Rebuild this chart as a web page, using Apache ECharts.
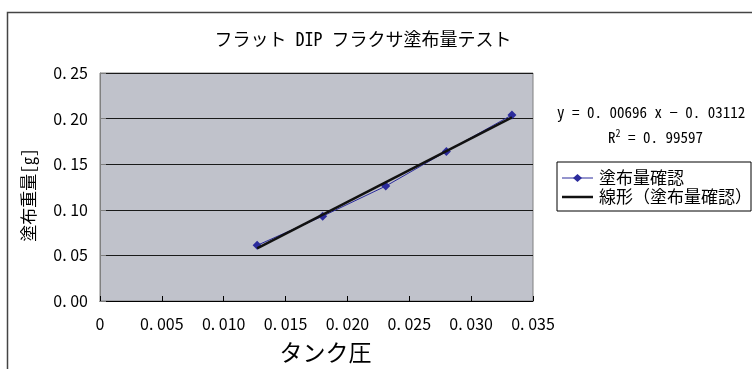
<!DOCTYPE html>
<html>
<head>
<meta charset="utf-8">
<script src="https://cdn.jsdelivr.net/npm/echarts@6/dist/echarts.min.js"></script>
<style>
  html, body { margin: 0; padding: 0; background: #fff; }
  #chart { width: 752px; height: 369px; }
</style>
</head>
<body>
<div id="chart"></div>
<script>
// Tank pressure vs. flux coating weight
const tankPressure = [0.0127, 0.0180, 0.0231, 0.0280, 0.0333];
const coatWeight   = [0.061, 0.093, 0.126, 0.164, 0.204];
const xTicks = [0, 0.005, 0.010, 0.015, 0.020, 0.025, 0.030, 0.035];
const yTicks = [0, 0.05, 0.10, 0.15, 0.20, 0.25];
const seriesName = '塗布量確認';
const trendName = '線形（塗布量確認）';
const equationText = 'y = 0. 00696 x − 0. 03112';
const rSquaredText = '0. 99597';

// Least-squares linear fit of the measured points
function linearFit(xs, ys) {
  const n = xs.length;
  const mx = xs.reduce((a, b) => a + b, 0) / n;
  const my = ys.reduce((a, b) => a + b, 0) / n;
  let sxy = 0, sxx = 0;
  for (let i = 0; i < n; i++) {
    sxy += (xs[i] - mx) * (ys[i] - my);
    sxx += (xs[i] - mx) * (xs[i] - mx);
  }
  const slope = sxy / sxx;
  return { slope, intercept: my - slope * mx };
}
const fit = linearFit(tankPressure, coatWeight);
const xMin = Math.min(...tankPressure), xMax = Math.max(...tankPressure);
const trendData = [[xMin, fit.slope * xMin + fit.intercept], [xMax, fit.slope * xMax + fit.intercept]];

const MONO = '"Noto Sans Mono CJK JP", "Noto Sans CJK JP", sans-serif';
const SANS = '"Noto Sans CJK JP", sans-serif';
const fmt = (v, d) => (v === 0 && d === 3) ? '0' : v.toFixed(d).replace('.', '. ');
const NAVY = '#2b2b9c';

const chart = echarts.init(document.getElementById('chart'));
chart.setOption({
  animation: false,
  backgroundColor: '#ffffff',
  textStyle: { fontFamily: MONO },
  title: {
    text: 'フラット DIP フラクサ塗布量テスト',
    left: 358, top: 25, textAlign: 'center',
    textStyle: { fontFamily: MONO, fontSize: 18, fontWeight: 'normal', color: '#000' }
  },
  grid: {
    left: 100, top: 73, right: 219, bottom: 67,
    containLabel: false,
    show: true, backgroundColor: '#c0c2cb', borderColor: '#808080', borderWidth: 1
  },
  xAxis: {
    type: 'value', min: xTicks[0], max: xTicks[xTicks.length - 1], interval: 0.005,
    name: 'タンク圧', nameLocation: 'middle', nameGap: 40,
    nameTextStyle: { fontFamily: MONO, fontSize: 23, color: '#000', padding: [0, 0, 0, 18] },
    axisLine: { show: true, lineStyle: { color: '#000', width: 1 } },
    axisTick: { show: true, inside: true, length: 5, lineStyle: { color: '#000' } },
    axisLabel: { fontFamily: SANS, fontSize: 16, color: '#000', margin: 15, formatter: v => fmt(v, 3) },
    splitLine: { show: false }
  },
  yAxis: {
    type: 'value', min: yTicks[0], max: yTicks[yTicks.length - 1], interval: 0.05,
    name: '塗布重量[g]', nameLocation: 'middle', nameGap: 63, nameRotate: 90,
    nameTextStyle: { fontFamily: MONO, fontSize: 17, color: '#000', padding: [0, 16, 0, 0] },
    axisLine: { show: true, lineStyle: { color: '#808080', width: 1 } },
    axisTick: { show: true, inside: true, length: 6, lineStyle: { color: '#808080' } },
    axisLabel: { fontFamily: SANS, fontSize: 16, color: '#000', margin: 12, formatter: v => fmt(v, 2) },
    splitLine: { show: true, lineStyle: { color: '#1a1a1a', width: 1 } }
  },
  series: [
    {
      name: seriesName, type: 'line',
      data: tankPressure.map((x, i) => [x, coatWeight[i]]),
      symbol: 'diamond', symbolSize: 9, showSymbol: true,
      lineStyle: { color: NAVY, width: 1 },
      itemStyle: { color: NAVY },
      z: 3
    },
    {
      name: trendName, type: 'line',
      data: trendData,
      symbol: 'none',
      lineStyle: { color: '#111', width: 2.5 },
      itemStyle: { color: '#111' },
      z: 4
    }
  ],
  graphic: [
    {
      type: 'rect', left: 5, top: 10, silent: true,
      shape: { x: 0, y: 0, width: 800, height: 400 },
      style: { fill: 'none', stroke: '#444', lineWidth: 1.5 }
    },
    {
      type: 'text', x: 557, y: 112,
      style: { text: equationText, font: '15px ' + MONO, fill: '#000', verticalAlign: 'middle' }
    },
    {
      type: 'text', x: 608, y: 137,
      style: {
        text: 'R{sup|2} = ' + rSquaredText,
        font: '15px ' + MONO, fill: '#000', verticalAlign: 'middle',
        rich: { sup: { fontSize: 10, fontFamily: MONO, verticalAlign: 'top', padding: [0, 0, 8, 0] } }
      }
    },
    // legend box
    {
      type: 'group', x: 557, y: 162,
      children: [
        { type: 'rect', shape: { x: 0, y: 0, width: 194, height: 49 },
          style: { fill: '#fff', stroke: '#000', lineWidth: 1 } },
        { type: 'line', shape: { x1: 5, y1: 16, x2: 36, y2: 16 }, style: { stroke: NAVY, lineWidth: 1 } },
        { type: 'polygon', shape: { points: [[20.5, 12], [25, 16], [20.5, 20], [16, 16]] }, style: { fill: NAVY } },
        { type: 'text', x: 42, y: 16, style: { text: seriesName, font: '17px ' + MONO, fill: '#000', verticalAlign: 'middle' } },
        { type: 'line', shape: { x1: 5, y1: 35, x2: 36, y2: 35 }, style: { stroke: '#111', lineWidth: 2.5 } },
        { type: 'text', x: 42, y: 35, style: { text: trendName, font: '17px ' + MONO, fill: '#000', verticalAlign: 'middle' } }
      ]
    }
  ]
});
</script>
</body>
</html>
